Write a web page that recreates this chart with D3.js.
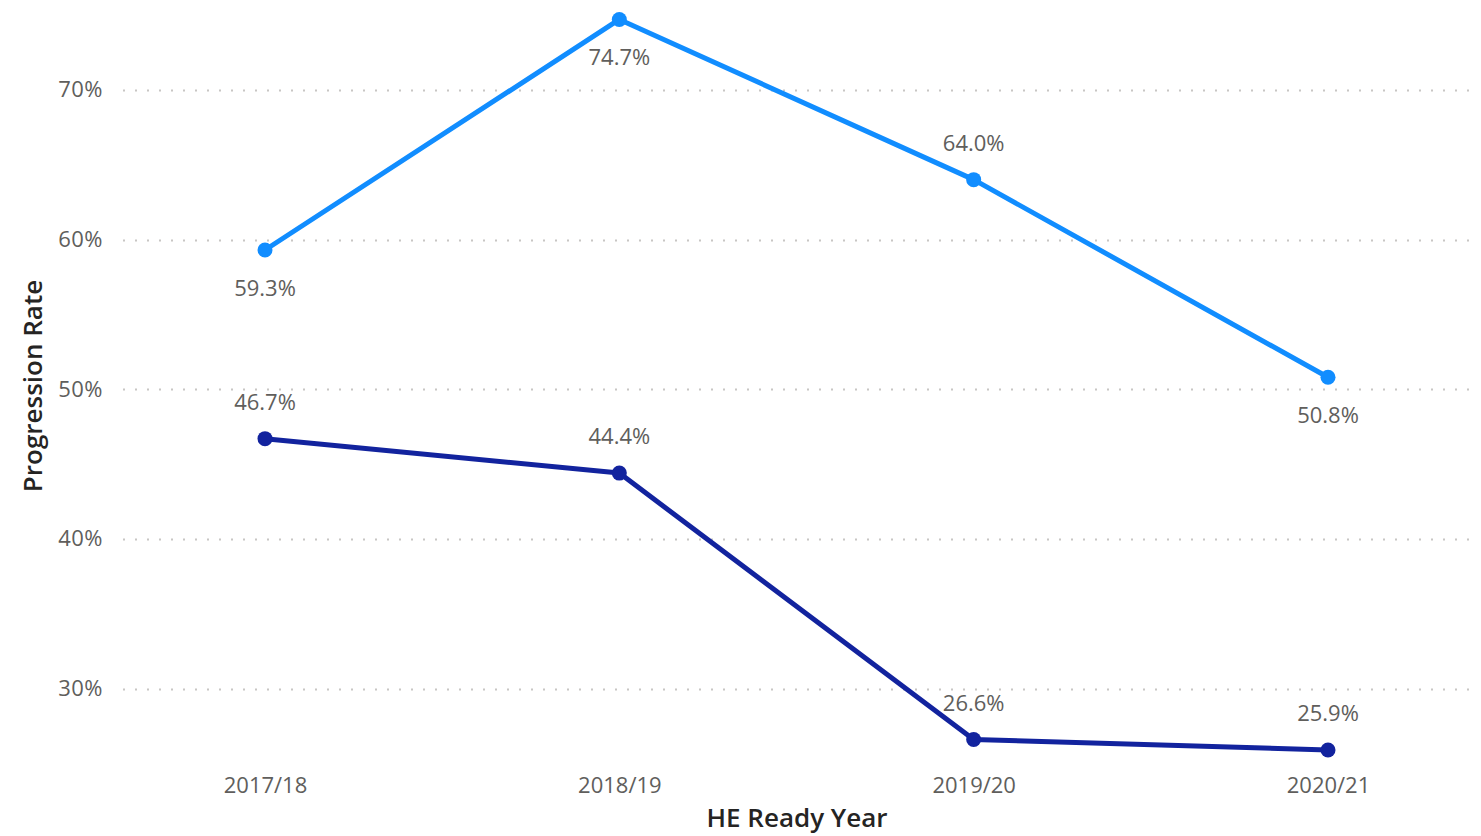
<!DOCTYPE html>
<html><head><meta charset="utf-8">
<script src="https://cdn.jsdelivr.net/npm/d3@7"></script>
<style>body{margin:0;background:#fff}svg{display:block}text{font-family:"Open Sans","Segoe UI",sans-serif}</style>
</head><body>
<svg id="c" width="1481" height="836"></svg>
<script>
const categories = ["2017/18","2018/19","2019/20","2020/21"];
const seriesA = [59.3, 74.7, 64.0, 50.8];
const seriesB = [46.7, 44.4, 26.6, 25.9];
const labelPosA = ["below","below","above","below"];
const labelPosB = ["above","above","above","above"];
const yTicks = [30, 40, 50, 60, 70];
const colors = ["#118DFF", "#12239E"];

const svg = d3.select("#c");
const x = d3.scalePoint().domain(categories).range([265, 1328]);
const y = d3.scaleLinear().domain([24.9, 76]).range([765, 0]);

// gridlines
svg.append("g").selectAll("line").data(yTicks).join("line")
  .attr("x1", 123).attr("x2", 1472)
  .attr("y1", d => Math.round(y(d)) + 0.5).attr("y2", d => Math.round(y(d)) + 0.5)
  .attr("stroke", "#C8C6C4").attr("stroke-width", 2).attr("stroke-dasharray", "2,10");

const fs = "22px";
// y axis
const yAxis = d3.axisLeft(y).tickValues(yTicks).tickFormat(d => d + "%").tickSize(0).tickPadding(0);
const gy = svg.append("g").attr("transform", "translate(103,0)").call(yAxis);
gy.select(".domain").remove();
gy.selectAll("text").attr("fill", "#605E5C").style("font-size", fs).style("font-family", '"Open Sans",sans-serif').attr("letter-spacing", "0.5px");

// x axis
const xAxis = d3.axisBottom(x).tickSize(0).tickPadding(0);
const gx = svg.append("g").attr("transform", "translate(0,777)").call(xAxis);
gx.select(".domain").remove();
gx.selectAll("text").attr("fill", "#605E5C").style("font-size", fs).style("font-family", '"Open Sans",sans-serif');

// axis titles
svg.append("text").attr("x", 797).attr("y", 827).attr("text-anchor", "middle")
  .attr("fill", "#252423").style("font-size", "26px").style("font-weight", 600).text("HE Ready Year");
svg.append("text").attr("transform", "translate(42,386) rotate(-90)").attr("text-anchor", "middle")
  .attr("fill", "#252423").style("font-size", "26px").style("font-weight", 600).text("Progression Rate");

const line = d3.line().x((d, i) => x(categories[i])).y(d => y(d));
[[seriesA, labelPosA, colors[0]], [seriesB, labelPosB, colors[1]]].forEach(([vals, pos, col]) => {
  svg.append("path").datum(vals).attr("d", line).attr("fill", "none")
    .attr("stroke", col).attr("stroke-width", 5).attr("stroke-linejoin", "round");
  svg.append("g").selectAll("circle").data(vals).join("circle")
    .attr("cx", (d, i) => x(categories[i])).attr("cy", d => y(d)).attr("r", 7.5).attr("fill", col);
  svg.append("g").selectAll("text").data(vals).join("text")
    .attr("x", (d, i) => x(categories[i]))
    .attr("y", (d, i) => y(d) + (pos[i] === "below" ? 46 : -29))
    .attr("text-anchor", "middle").attr("fill", "#605E5C").style("font-size", fs)
    .text(d => d.toFixed(1) + "%");
});
</script>
</body></html>
